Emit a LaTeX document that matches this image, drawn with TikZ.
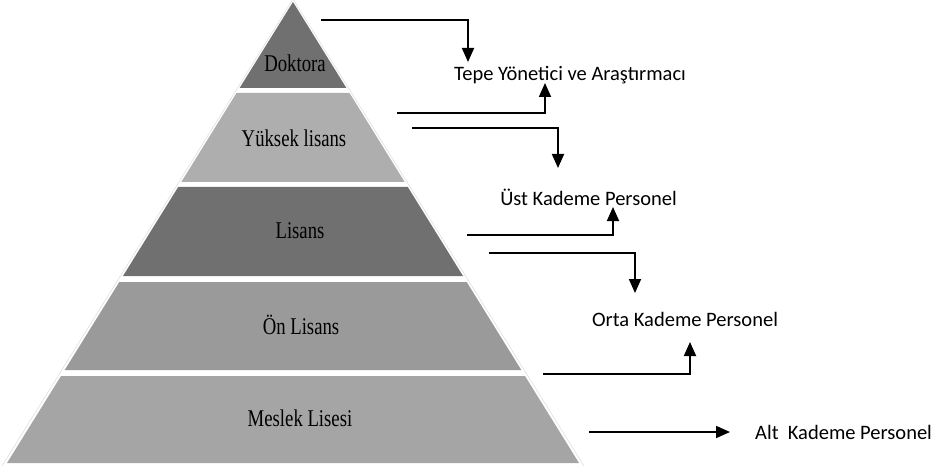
\documentclass[tikz,border=0pt]{standalone}
\usepackage{fontspec}
\setmainfont{Carlito}
\newfontfamily\tierfont[FakeStretch=0.78]{Liberation Serif}
\usetikzlibrary{arrows.meta}
\definecolor{darkTier}{HTML}{707070}
\definecolor{lightTier}{HTML}{AEAEAE}
\definecolor{midTier}{HTML}{9A9A9A}
\definecolor{baseTier}{HTML}{A5A5A5}

\begin{document}
\begin{tikzpicture}[x=1pt, y=-1pt]
	\tikzstyle{tierLabel}=[font=\tierfont\fontsize{24}{26}\selectfont, inner sep=0pt]
	\tikzstyle{levelLabel}=[font=\fontsize{20.5}{24}\selectfont, inner sep=0pt]
	\tikzstyle{linkStyle}=[line width=1.8pt, -{Triangle[width=12pt, length=14pt]}]
	\useasboundingbox (0,0) rectangle (943,468);
	% faint outline round the pyramid
	\draw[gray!25, line width=0.6pt] (2,466) -- (293,-1) -- (584,466);
	% bands, top to bottom
	\fill[darkTier] (293,2) -- (346.4,88) -- (239.6,88) -- cycle;
	\fill[lightTier] (236.5,93) -- (349.5,93) -- (404.7,182) -- (181.3,182) -- cycle;
	\fill[darkTier] (178.2,187) -- (407.8,187) -- (463.0,276) -- (123.0,276) -- cycle;
	\fill[midTier] (119.3,282) -- (466.7,282) -- (521.3,370) -- (64.7,370) -- cycle;
	\fill[baseTier] (61.0,376) -- (525.0,376) -- (579,463) -- (7,463) -- cycle;
	\node[tierLabel] (doktora) at (295,63) {Doktora};
	\node[tierLabel] (yuksek) at (294,138) {Yüksek lisans};
	\node[tierLabel] (lisans) at (300,231) {Lisans};
	\node[tierLabel] (onlisans) at (301,325) {Ön Lisans};
	\node[tierLabel] (meslek) at (300,418) {Meslek Lisesi};
	% staff levels
	\node[levelLabel] (tepe) at (570,75) {Tepe Yönetici ve Araştırmacı};
	\node[levelLabel] (ust) at (588.5,197) {Üst Kademe Personel};
	\node[levelLabel] (orta) at (685,319) {Orta Kademe Personel};
	\node[levelLabel, anchor=west] (alt) at (755,432) {Alt~ Kademe Personel};
	% connector ends
	\coordinate (dokOut) at (321,20);
	\coordinate (tepeIn) at (468,62);
	\coordinate (yukUp) at (397,113);
	\coordinate (tepeUp) at (545,83);
	\coordinate (yukDown) at (412,128);
	\coordinate (ustIn) at (558,168);
	\coordinate (lisUp) at (467,235);
	\coordinate (ustUp) at (613,207);
	\coordinate (lisDown) at (489,253);
	\coordinate (ortaIn) at (635,293);
	\coordinate (onUp) at (543,374);
	\coordinate (ortaUp) at (690,342);
	\coordinate (mesOut) at (589,432);
	\coordinate (altIn) at (730,432);
	\draw[linkStyle] (dokOut) -| (tepeIn);
	\draw[linkStyle] (yukUp) -| (tepeUp);
	\draw[linkStyle] (yukDown) -| (ustIn);
	\draw[linkStyle] (lisUp) -| (ustUp);
	\draw[linkStyle] (lisDown) -| (ortaIn);
	\draw[linkStyle] (onUp) -| (ortaUp);
	\draw[linkStyle] (mesOut) -- (altIn);
\end{tikzpicture}
\end{document}
